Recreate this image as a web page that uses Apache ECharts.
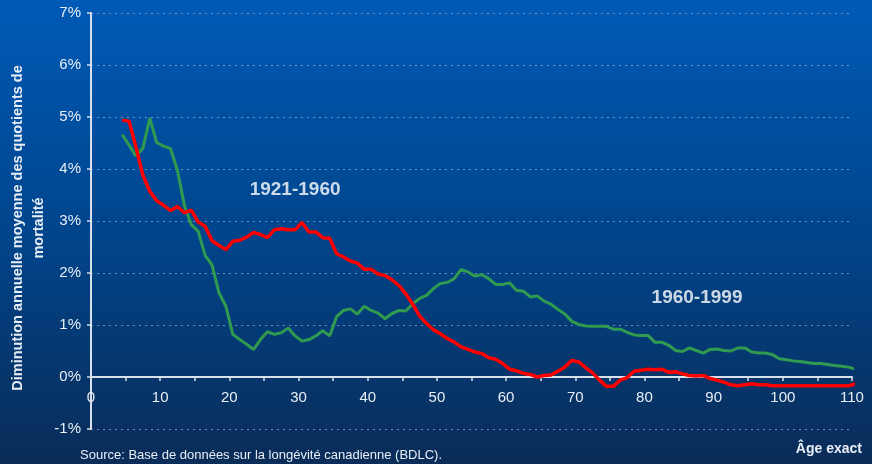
<!DOCTYPE html>
<html lang="fr">
	<head>
		<meta charset="UTF-8">
		<title></title>
		<style type="text/css">
			html,
			body,
			#main {
				padding: 0;
				margin: 0;
				overflow: hidden;
				width: 100%;
				height: 100%;
			}
		</style>
	</head>
	<body>
		<div id="main" style="width: 872px; height: 464px;"></div>
		<script type="text/javascript" src="https://cdn.jsdelivr.net/npm/echarts@6/dist/echarts.min.js"></script>
		<script type="text/javascript">
			// âge exact (milieu de chaque année d'âge)
			const ages = [
				4.5, 5.5, 6.5, 7.5, 8.5, 9.5, 10.5, 11.5, 12.5, 13.5, 14.5, 15.5, 16.5, 17.5, 18.5, 19.5,
				20.5, 21.5, 22.5, 23.5, 24.5, 25.5, 26.5, 27.5, 28.5, 29.5, 30.5, 31.5, 32.5, 33.5, 34.5,
				35.5, 36.5, 37.5, 38.5, 39.5, 40.5, 41.5, 42.5, 43.5, 44.5, 45.5, 46.5, 47.5, 48.5, 49.5,
				50.5, 51.5, 52.5, 53.5, 54.5, 55.5, 56.5, 57.5, 58.5, 59.5, 60.5, 61.5, 62.5, 63.5, 64.5,
				65.5, 66.5, 67.5, 68.5, 69.5, 70.5, 71.5, 72.5, 73.5, 74.5, 75.5, 76.5, 77.5, 78.5, 79.5,
				80.5, 81.5, 82.5, 83.5, 84.5, 85.5, 86.5, 87.5, 88.5, 89.5, 90.5, 91.5, 92.5, 93.5, 94.5,
				95.5, 96.5, 97.5, 98.5, 99.5, 100.5, 101.5, 102.5, 103.5, 104.5, 105.5, 106.5, 107.5,
				108.5, 109.5, 110.5
			];
			// 1921-1960 (rouge)
			const period1 = [
				4.94, 4.92, 4.42, 3.88, 3.57, 3.39, 3.30, 3.20, 3.28, 3.16, 3.21, 2.98, 2.90, 2.62, 2.53, 2.45,
				2.61, 2.63, 2.69, 2.78, 2.74, 2.68, 2.83, 2.85, 2.83, 2.83, 2.97, 2.79, 2.79, 2.68, 2.67,
				2.37, 2.31, 2.23, 2.19, 2.07, 2.07, 1.98, 1.95, 1.87, 1.76, 1.60, 1.40, 1.17, 1.03, 0.91,
				0.83, 0.74, 0.67, 0.58, 0.53, 0.48, 0.45, 0.37, 0.34, 0.26, 0.15, 0.12, 0.07, 0.05, 0.00,
				0.03, 0.04, 0.11, 0.19, 0.32, 0.29, 0.18, 0.08, -0.06, -0.18, -0.18, -0.06, -0.01, 0.11, 0.13,
				0.15, 0.14, 0.15, 0.09, 0.10, 0.06, 0.03, 0.02, 0.03, -0.03, -0.06, -0.10, -0.15, -0.17, -0.15,
				-0.13, -0.15, -0.15, -0.17, -0.17, -0.17, -0.17, -0.17, -0.17, -0.17, -0.17, -0.17, -0.17,
				-0.17, -0.17, -0.13
			];
			// 1960-1999 (vert)
			const period2 = [
				4.66, 4.46, 4.25, 4.40, 4.98, 4.51, 4.44, 4.39, 3.97, 3.30, 2.93, 2.80, 2.34, 2.15, 1.62, 1.36,
				0.82, 0.72, 0.63, 0.53, 0.72, 0.87, 0.82, 0.85, 0.94, 0.79, 0.69, 0.72, 0.79, 0.89, 0.79,
				1.16, 1.28, 1.31, 1.21, 1.36, 1.28, 1.23, 1.12, 1.22, 1.28, 1.27, 1.41, 1.51, 1.57, 1.70,
				1.80, 1.82, 1.89, 2.07, 2.02, 1.94, 1.97, 1.89, 1.78, 1.78, 1.81, 1.67, 1.65, 1.54, 1.56,
				1.46, 1.40, 1.30, 1.21, 1.07, 1.01, 0.98, 0.975, 0.975, 0.975, 0.92, 0.92, 0.86, 0.81, 0.80,
				0.80, 0.67, 0.67, 0.61, 0.51, 0.49, 0.56, 0.51, 0.46, 0.53, 0.54, 0.51, 0.50, 0.56, 0.56,
				0.48, 0.46, 0.46, 0.43, 0.35, 0.33, 0.31, 0.30, 0.28, 0.26, 0.26, 0.24, 0.22,
				0.205, 0.19, 0.15
			];
			// étiquettes des périodes : [âge, valeur, texte]
			const periodLabels = [
				[29.5, 3.6, '1921-1960'],
				[87.6, 1.53, '1960-1999']
			];

			const font = 'Liberation Sans, Arial, sans-serif';
			const textColor = '#e8eef6';
			const axisColor = '#d8e0ec';

			const chart = echarts.init(document.getElementById('main'));
			chart.setOption({
				animation: false,
				backgroundColor: {
					type: 'linear', x: 0, y: 0, x2: 0, y2: 1,
					colorStops: [
						{ offset: 0, color: '#005ab6' },
						{ offset: 0.5, color: '#00458c' },
						{ offset: 1, color: '#0a2c58' }
					]
				},
				textStyle: { fontFamily: font },
				title: [
					{
						text: 'Source: Base de données sur la longévité canadienne (BDLC).',
						left: 80, top: 449, padding: 0,
						textStyle: { color: textColor, fontSize: 13, fontWeight: 'normal', fontFamily: font }
					},
					{
						text: 'Âge exact',
						right: 10, top: 442, padding: 0,
						textStyle: { color: textColor, fontSize: 14, fontWeight: 'bold', fontFamily: font }
					}
				],
				grid: { left: 91, right: 20, top: 13, bottom: 35, containLabel: false, outerBoundsMode: 'none' },
				xAxis: {
					type: 'value',
					min: 0, max: 110, interval: 10,
					position: 'bottom',
					// l'axe des x croise à 0 % (52 px au-dessus du bas de la grille)
					offset: -52,
					axisLine: { onZero: false, lineStyle: { color: axisColor, width: 2 } },
					axisTick: { show: true, length: 4, lineStyle: { color: axisColor, width: 1.5 } },
					minorTick: { show: true, splitNumber: 2, length: 4, lineStyle: { color: axisColor, width: 1.5 } },
					axisLabel: { color: textColor, fontSize: 15, margin: 13, fontFamily: font },
					splitLine: { show: false }
				},
				yAxis: {
					type: 'value',
					min: -1, max: 7, interval: 1,
					name: 'Diminution annuelle moyenne des quotients de\nmortalité',
					nameLocation: 'middle',
					nameGap: 42,
					nameMoveOverlap: false,
					nameTextStyle: {
						color: textColor, fontSize: 14.5, fontWeight: 'bold', lineHeight: 21,
						padding: [0, 14, 0, 0], fontFamily: font
					},
					axisLine: { show: true, lineStyle: { color: axisColor, width: 2 } },
					axisTick: { show: true, length: 4, lineStyle: { color: axisColor, width: 1.5 } },
					axisLabel: { color: textColor, fontSize: 15, margin: 10, formatter: '{value}%', fontFamily: font },
					splitLine: { show: true, lineStyle: { color: 'rgba(160,175,200,0.7)', width: 1, type: [2, 4] } }
				},
				series: [
					{
						name: '1960-1999',
						type: 'line',
						data: ages.map((a, i) => [a, period2[i]]),
						showSymbol: false,
						clip: false,
						lineStyle: { color: '#2f9a50', width: 3 }
					},
					{
						name: '1921-1960',
						type: 'line',
						data: ages.map((a, i) => [a, period1[i]]),
						showSymbol: false,
						clip: false,
						lineStyle: { color: '#ff0000', width: 3.5 }
					},
					{
						type: 'scatter',
						data: periodLabels,
						symbolSize: 1,
						silent: true,
						itemStyle: { color: 'transparent' },
						label: {
							show: true,
							position: 'inside',
							formatter: (p) => p.value[2],
							color: '#ffffff',
							fontSize: 19,
							fontWeight: 'bold',
							fontFamily: font
						}
					}
				]
			});
		</script>
	</body>
</html>
